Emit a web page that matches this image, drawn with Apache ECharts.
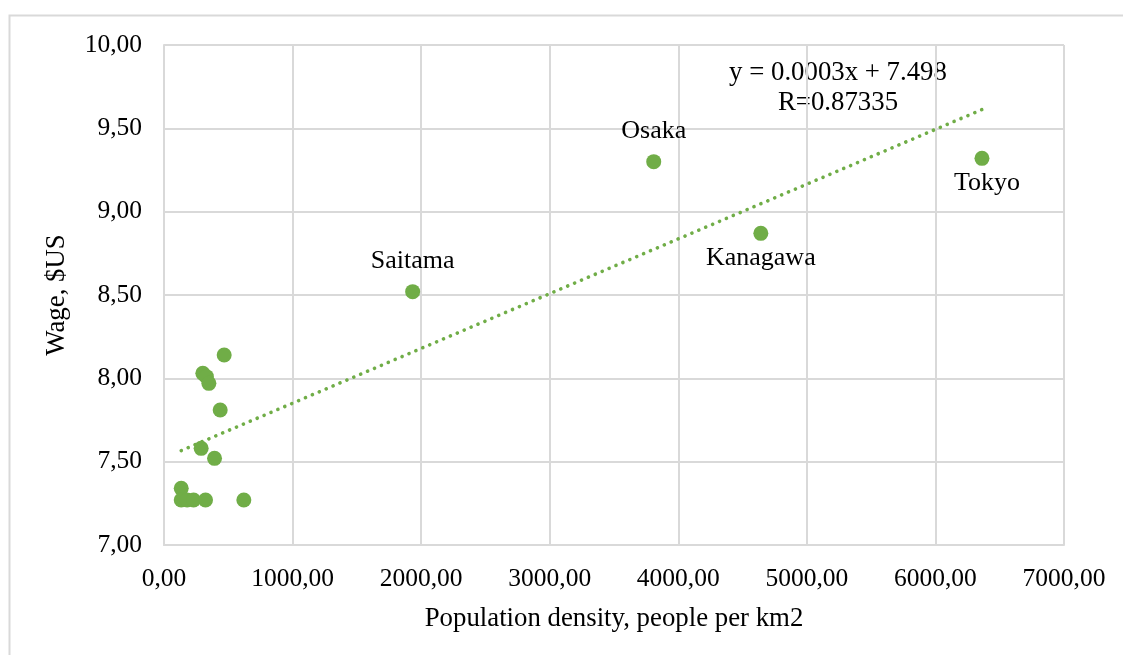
<!DOCTYPE html>
<html>
<head>
<meta charset="utf-8">
<script src="https://cdn.jsdelivr.net/npm/echarts@6/dist/echarts.min.js"></script>
<style>
html,body{margin:0;padding:0;background:#fff;}
#c{width:1123px;height:655px;}
</style>
</head>
<body>
<div id="c"></div>
<script>
// ---- data ----
const prefX = [468, 302, 330, 349, 437, 289, 393, 134, 134, 180, 230, 323, 621];
const prefY = [8.14, 8.03, 8.01, 7.97, 7.81, 7.58, 7.52, 7.34, 7.27, 7.27, 7.27, 7.27, 7.27];
const cityNames = ['Saitama', 'Osaka', 'Kanagawa', 'Tokyo'];
const cityX = [1934, 3809, 4642, 6362];
const cityY = [8.52, 9.30, 8.87, 9.32];
const xTicks = [0, 1000, 2000, 3000, 4000, 5000, 6000, 7000];
const yTicks = [7.0, 7.5, 8.0, 8.5, 9.0, 9.5, 10.0];
const equationText = 'y = 0.0003x + 7.498';
const rText = 'R=0.87335';

// ---- styling config ----
const labelPlace = {Saitama: 'top', Osaka: 'top', Kanagawa: 'bottom', Tokyo: 'bottom'};
const FONT = "'Times New Roman','Liberation Serif',serif";
const GREEN = '#70ad47';
const fmt = v => v.toFixed(2).replace('.', ',');

// linear regression trendline over all points
const allX = prefX.concat(cityX), allY = prefY.concat(cityY);
const n = allX.length;
const mx = allX.reduce((a,b)=>a+b,0)/n, my = allY.reduce((a,b)=>a+b,0)/n;
let sxy = 0, sxx = 0;
for (let i=0;i<n;i++){ sxy += (allX[i]-mx)*(allY[i]-my); sxx += (allX[i]-mx)**2; }
const slope = sxy/sxx, icpt = my - slope*mx;
const xmin = Math.min(...allX), xmax = Math.max(...allX);
const trend = [[xmin, icpt + slope*xmin], [xmax, icpt + slope*xmax]];

const pts = prefX.map((x,i)=>[x, prefY[i]]);
const cityPts = cityNames.map((nm,i)=>({
  name: nm, value: [cityX[i], cityY[i]],
  label: {show: true, formatter: nm, position: labelPlace[nm], distance: labelPlace[nm]==='top' ? 10 : 4,
          offset: nm==='Tokyo' ? [5,0] : [0,0],
          fontFamily: FONT, fontSize: 26, color: '#000'}
}));

const chart = echarts.init(document.getElementById('c'), null, {renderer: 'canvas'});
chart.setOption({
  animation: false,
  backgroundColor: '#fff',
  grid: {left: 164, right: 59, top: 45, bottom: 110},
  xAxis: {
    type: 'value', min: xTicks[0], max: xTicks[xTicks.length-1], interval: 1000,
    name: 'Population density, people per km2', nameLocation: 'middle', nameGap: 60,
    nameTextStyle: {fontFamily: FONT, fontSize: 26.8, color: '#000'},
    axisLine: {show: true, lineStyle: {color: '#d9d9d9', width: 2}},
    axisTick: {show: false},
    axisLabel: {formatter: fmt, fontFamily: FONT, fontSize: 25.5, color: '#000', margin: 21},
    splitLine: {show: true, lineStyle: {color: '#d9d9d9', width: 2}}
  },
  yAxis: {
    type: 'value', min: yTicks[0], max: yTicks[yTicks.length-1], interval: 0.5,
    name: 'Wage, $US', nameLocation: 'middle', nameGap: 94, nameRotate: 90,
    nameTextStyle: {fontFamily: FONT, fontSize: 26.8, color: '#000'},
    axisLine: {show: true, lineStyle: {color: '#d9d9d9', width: 2}},
    axisTick: {show: false},
    axisLabel: {formatter: fmt, fontFamily: FONT, fontSize: 25.5, color: '#000', margin: 22},
    splitLine: {show: true, lineStyle: {color: '#d9d9d9', width: 2}}
  },
  graphic: [
    {type: 'rect', silent: true, z: -1, shape: {x: 9.5, y: 15.5, width: 1300, height: 800},
     style: {fill: 'none', stroke: '#d9d9d9', lineWidth: 2}},
    {type: 'text', x: 838, y: 73, style: {text: equationText, fontFamily: FONT, fontSize: 26.8, fill: '#000', align: 'center', verticalAlign: 'middle'}},
    {type: 'text', x: 838, y: 103, style: {text: rText, fontFamily: FONT, fontSize: 26.8, fill: '#000', align: 'center', verticalAlign: 'middle'}}
  ],
  series: [
    {type: 'line', data: trend, symbol: 'none', silent: true, z: 1,
     lineStyle: {color: GREEN, width: 3.6, type: [0.1, 7.4], cap: 'round'}},
    {type: 'scatter', data: pts, symbolSize: 15, itemStyle: {color: GREEN, opacity: 1}, z: 2},
    {type: 'scatter', data: cityPts, symbolSize: 15, itemStyle: {color: GREEN, opacity: 1}, z: 2}
  ]
});
</script>
</body>
</html>
